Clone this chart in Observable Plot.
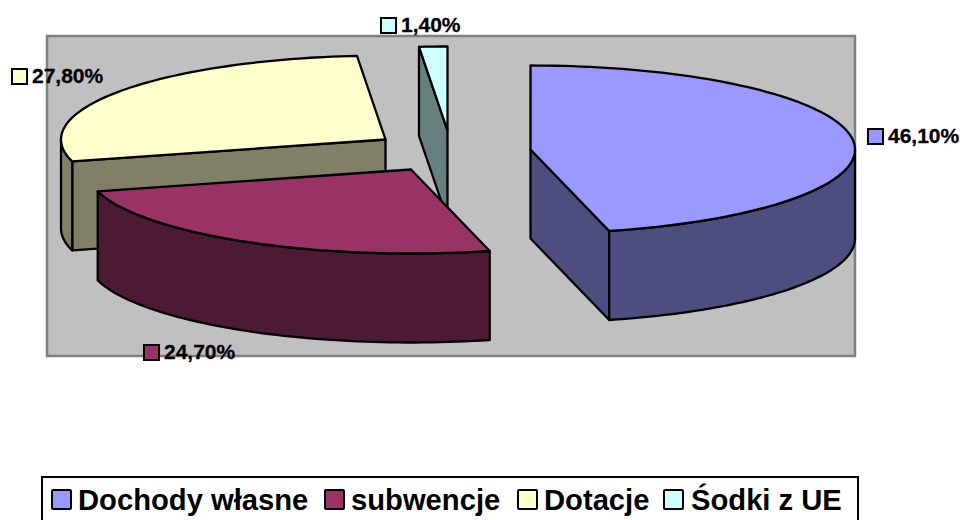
<!DOCTYPE html>
<html><head><meta charset="utf-8">
<script src="https://cdn.jsdelivr.net/npm/d3@7"></script>
<script src="https://cdn.jsdelivr.net/npm/@observablehq/plot@0.6"></script>
<style>
html,body{margin:0;padding:0;background:#fff;overflow:hidden;width:960px;height:520px}
#chart svg{display:block}
#legend{position:absolute;left:41px;top:476px;width:814px;height:60px;border:2px solid #000;box-sizing:content-box;background:#fff;
 font:bold 29.2px "Liberation Sans",Arial,sans-serif;color:#000}
#legend .sw{position:absolute;top:11px;width:17px;height:17px;border:2px solid #000;border-radius:2px}
#legend .tx{position:absolute;top:5px;line-height:34px}
</style></head><body>
<div id="chart"></div>
<div id="legend"></div>
<script>
const categories = ["Dochody własne", "subwencje", "Dotacje", "Śodki z UE"];
const shares = [46.1, 24.7, 27.8, 1.4];
const valueLabels = ["46,10%", "24,70%", "27,80%", "1,40%"];
const topColors = ["#9999FF", "#993366", "#FFFFCC", "#CCFFFF"];
const sideColors = ["#4D4D80", "#4D1A33", "#808066", "#668080"];

// layout of the exploded 3-D pie (pixels of the identity scales)
const apexX = [530, 410.5, 385, 447];
const apexY = [149, 169, 139, 130];
const radiusX = 324.5, radiusY = 84, depth = 89;
const paintOrder = [2, 3, 1, 0];
const labelX = [875, 151, 19, 388];
const labelY = [136, 352, 76, 25];
const legendSwatchX = [8, 281, 474, 620];
const legendTextX = [35, 308, 501, 648];

const rad = d => d * Math.PI / 180;
const cum = d3.cumsum(shares);
const startDeg = i => (i ? cum[i - 1] : 0) * 3.6;
const endDeg = i => cum[i] * 3.6;
const pt = (i, a, dz = 0) => ({
  x: apexX[i] + radiusX * Math.sin(rad(a)),
  y: apexY[i] - radiusY * Math.cos(rad(a)) + dz
});
const arc = (i, a0, a1, dz = 0) => {
  const n = Math.max(2, Math.ceil(Math.abs(a1 - a0) / 1.5));
  return d3.range(n + 1).map(k => pt(i, a0 + (a1 - a0) * k / n, dz));
};
const apex = (i, dz = 0) => ({x: apexX[i], y: apexY[i] + dz});
const closed = p => [...p, p[0]];
const face = (p, fill) => Plot.line(closed(p), {x: "x", y: "y", fill, stroke: "#000", strokeWidth: 2.3, strokeLinejoin: "round", curve: "linear"});
const radialWall = (i, a) => face([apex(i), pt(i, a), pt(i, a, depth), apex(i, depth)], sideColors[i]);

function sliceMarks(i) {
  const a0 = startDeg(i), a1 = endDeg(i), marks = [];
  if (Math.sin(rad(a1)) > 1e-6) marks.push(radialWall(i, a1));
  if (Math.sin(rad(a0)) < -1e-6) marks.push(radialWall(i, a0));
  const f0 = Math.max(a0, 90), f1 = Math.min(a1, 270);
  if (f1 > f0) marks.push(face([...arc(i, f0, f1), ...arc(i, f1, f0, depth)], sideColors[i]));
  marks.push(face([apex(i), ...arc(i, a0, a1)], topColors[i]));
  return marks;
}

const labels = categories.map((c, i) => ({c, x: labelX[i], y: labelY[i], t: valueLabels[i], fill: topColors[i]}));

const plot = Plot.plot({
  width: 960, height: 470, margin: 0,
  x: {domain: [0, 960], range: [0, 960], axis: null},
  y: {domain: [0, 470], range: [0, 470], axis: null},
  style: {background: "#fff"},
  marks: [
    Plot.rect([{x1: 47, x2: 855, y1: 36, y2: 356}], {x1: "x1", x2: "x2", y1: "y1", y2: "y2", fill: "#C0C0C0", stroke: "#808080", strokeWidth: 2.5}),
    ...paintOrder.flatMap(sliceMarks),
    Plot.dot(labels, {x: "x", y: "y", symbol: "square", r: 8.5, fill: "fill", stroke: "#000", strokeWidth: 2}),
    Plot.text(labels, {x: d => d.x + 12.5, y: d => d.y - 0.5, text: "t", textAnchor: "start", fontSize: 21, fontWeight: "bold", fontFamily: "Liberation Sans", fill: "#000", stroke: "#000", strokeWidth: 0.3})
  ]
});
document.getElementById("chart").append(plot);

const legend = document.getElementById("legend");
categories.forEach((c, i) => {
  const sw = document.createElement("div");
  sw.className = "sw"; sw.style.left = legendSwatchX[i] + "px"; sw.style.background = topColors[i];
  const tx = document.createElement("div");
  tx.className = "tx"; tx.style.left = legendTextX[i] + "px"; tx.textContent = c;
  legend.append(sw, tx);
});
</script>
</body></html>
